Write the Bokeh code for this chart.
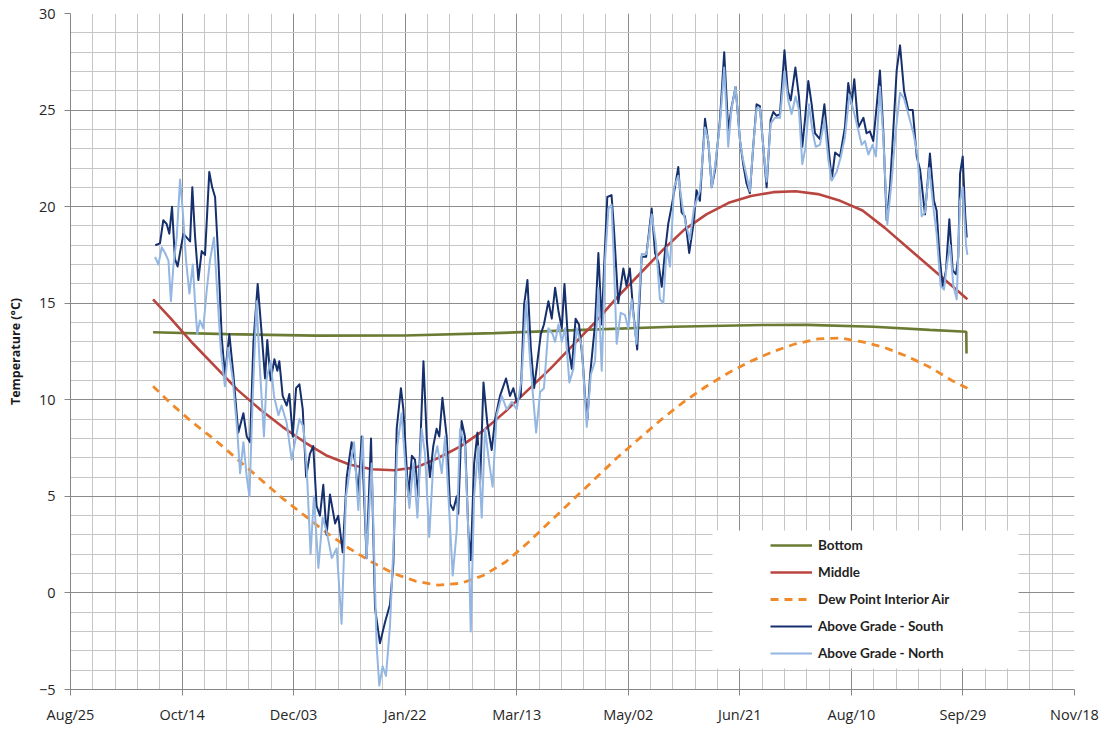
import pandas as pd
from bokeh.plotting import figure
from bokeh.models import (Range1d, FixedTicker, DatetimeTickFormatter, Legend,
                          LegendItem, BoxAnnotation, ColumnDataSource)
from bokeh.embed import file_html
from bokeh.resources import INLINE

# ---------------- data ----------------
start_date = "2010-08-25"
tick_dates = ["2010-08-25", "2010-10-14", "2010-12-03", "2011-01-22", "2011-03-13",
              "2011-05-02", "2011-06-21", "2011-08-10", "2011-09-29", "2011-11-18"]
y_ticks = [-5, 0, 5, 10, 15, 20, 25, 30]

# days after start_date
smooth_day = [37, 45, 55, 65, 75, 85, 95, 105, 115, 125, 135, 145, 155, 165, 175, 185, 195,
              205, 215, 225, 235, 245, 255, 265, 275, 285, 295, 305, 315, 325, 335, 345, 355,
              365, 375, 385, 395, 402]
middle_temp = [15.2, 14.2, 12.9, 11.7, 10.5, 9.5, 8.6, 7.8, 7.1, 6.65, 6.4, 6.35, 6.5, 7.0, 7.6,
               8.4, 9.4, 10.5, 11.6, 12.8, 14.0, 15.3, 16.5, 17.7, 18.8, 19.6, 20.2, 20.55,
               20.75, 20.8, 20.65, 20.3, 19.8, 18.9, 17.9, 16.9, 15.9, 15.2]
dew_temp = [10.7, 9.8, 8.8, 7.9, 6.9, 5.9, 4.9, 4.0, 3.1, 2.3, 1.6, 1.0, 0.6, 0.4, 0.5, 0.9,
            1.6, 2.6, 3.7, 4.8, 5.9, 7.0, 8.0, 9.0, 9.9, 10.7, 11.4, 12.0, 12.5, 12.9, 13.15,
            13.2, 13.0, 12.7, 12.25, 11.7, 11.0, 10.6]

bottom_day = [37, 70, 110, 150, 190, 230, 270, 310, 330, 360, 385, 401.5, 401.6]
bottom_temp = [13.5, 13.4, 13.32, 13.33, 13.45, 13.62, 13.78, 13.87, 13.88, 13.78, 13.62,
               13.52, 12.4]

south_day = [38.0, 40.1, 41.6, 43.1, 44.3, 45.5, 46.8, 48.0, 50.6, 52.1, 53.6, 54.6, 55.8,
             57.3, 58.8, 60.3, 62.2, 63.5, 64.8, 66.3, 67.8, 69.2, 71.2, 73.0, 75.2, 77.5,
             79.0, 80.5, 82.0, 83.9, 85.7, 87.2, 88.2, 89.7, 91.4, 92.7, 93.6, 95.1, 96.9,
             98.1, 99.6, 101.1, 102.6, 104.1, 105.6, 107.3, 108.8, 110.3, 111.8, 113.3,
             114.8, 116.3, 118.6, 120.0, 122.0, 123.8, 126.0, 127.5, 129.0, 130.5, 132.7,
             134.7, 136.5, 138.7, 141.0, 143.2, 144.7, 146.2, 148.1, 149.2, 151.4, 153.0,
             154.4, 155.9, 158.2, 159.7, 161.1, 162.6, 164.1, 165.3, 166.7, 168.6, 170.1,
             171.6, 173.1, 173.8, 175.3, 176.8, 178.3, 179.4, 180.9, 182.4, 183.6, 185.1,
             186.8, 188.8, 190.3, 192.5, 195.2, 197.0, 198.5, 200.0, 201.8, 203.3, 204.8,
             206.3, 207.8, 209.3, 210.8, 212.2, 214.2, 215.7, 217.2, 218.7, 220.2, 221.4,
             223.2, 224.7, 226.4, 227.9, 229.6, 230.6, 231.7, 232.9, 235.1, 236.6, 238.1,
             239.1, 240.6, 242.5, 243.5, 245.5, 247.8, 249.2, 250.7, 252.2, 254.0, 256.0,
             258.0, 260.5, 262.0, 263.5, 265.0, 266.4, 267.9, 269.4, 270.9, 272.4, 273.9,
             275.4, 277.3, 279.1, 280.6, 282.1, 284.4, 285.9, 287.4, 288.9, 291.1, 293.0,
             294.8, 296.3, 298.1, 300.1, 301.5, 303.0, 304.5, 306.0, 307.5, 309.0, 310.5,
             312.0, 313.8, 315.0, 316.5, 318.0, 320.0, 321.5, 322.8, 324.9, 326.5, 328.0,
             329.2, 330.7, 332.2, 333.7, 335.9, 337.9, 339.7, 341.2, 342.7, 344.9, 347.1,
             348.6, 350.1, 351.3, 353.1, 355.4, 356.8, 358.3, 359.8, 361.0, 362.8, 364.3,
             365.8, 367.3, 368.8, 370.3, 371.8, 373.6, 375.5, 377.5, 379.3, 380.8, 383.0,
             385.2, 387.0, 388.2, 389.4, 390.9, 392.4, 393.9, 395.4, 396.9, 397.9, 398.7,
             399.9, 401.0, 401.7]
south_temp = [18.0, 18.1, 19.3, 19.1, 18.6, 20.0, 17.3, 16.9, 18.6, 18.4, 18.2, 21.0, 18.5,
              16.2, 17.7, 17.5, 21.8, 21.0, 20.5, 17.2, 13.2, 11.3, 13.4, 11.3, 8.3, 9.3,
              8.1, 7.8, 13.0, 16.0, 13.4, 11.1, 13.1, 11.0, 12.1, 11.5, 12.0, 10.2, 9.7,
              10.3, 8.1, 10.6, 10.8, 9.5, 6.0, 7.2, 7.6, 4.5, 4.0, 5.6,
              3.0, 5.1, 3.6, 4.0, 2.1, 6.0, 7.8, 6.8, 5.1, 8.1, 1.8,
              8.0, -0.8, -2.6, -1.5, -0.6, 1.5, 8.5, 10.6, 9.5, 5.0, 7.1,
              6.9, 5.0, 12.0, 7.9, 6.0, 7.6, 8.5, 8.1, 10.1, 8.1, 4.6,
              4.3, 5.0, 4.1, 8.9, 8.1, 3.2, 1.7, 6.7, 8.3, 5.7, 10.9,
              8.8, 7.4, 9.0, 10.2, 11.1, 10.2, 10.6, 9.9, 10.2, 14.9, 16.2,
              12.7, 10.6, 12.0, 13.4, 13.9, 15.1, 14.2, 15.8, 14.6, 13.7, 16.0,
              12.7, 11.6, 14.2, 13.9, 12.0, 10.2, 9.0, 11.3, 13.9, 17.6, 13.9,
              16.7, 20.5, 20.6, 19.0, 15.0, 16.8, 15.9, 16.8, 14.6, 12.6, 17.4,
              17.4, 19.9, 17.6, 17.1, 15.85, 17.6, 19.1, 20.0, 21.0, 22.05, 19.7,
              19.5, 17.6, 19.0, 20.85, 20.3, 24.55, 23.3, 21.0, 21.9, 24.5, 28.0,
              23.95, 25.15, 26.2, 23.4, 22.2, 21.2, 20.7, 23.1, 25.3, 25.2, 23.1,
              21.0, 24.5, 24.9, 24.7, 24.8, 28.1, 26.0, 25.5, 27.2, 25.7, 23.1,
              24.5, 26.5, 25.3, 23.8, 23.5, 25.3, 23.1, 21.4, 22.8, 22.6, 24.1,
              26.4, 25.3, 26.6, 24.1, 24.6, 23.8, 23.9, 23.4, 24.8, 27.05, 23.9,
              19.3, 21.0, 24.0, 27.05, 28.35, 26.0, 25.0, 25.0, 22.6, 21.9, 19.6,
              22.75, 20.3, 19.8, 17.6, 15.85, 16.7, 19.35, 16.7, 16.5, 17.4, 21.7,
              22.6, 19.6, 18.4]

north_day = [37.9, 39.4, 40.9, 42.4, 43.9, 45.0, 46.1, 47.6, 49.1, 50.3, 51.8, 53.3, 54.8,
             55.8, 56.8, 58.0, 59.5, 61.0, 62.5, 64.3, 65.8, 67.3, 69.2, 70.7, 72.7, 74.8,
             76.0, 77.5, 79.0, 80.2, 81.7, 83.4, 84.9, 86.7, 87.9, 89.7, 91.2, 93.2, 94.6,
             96.9, 99.1, 100.6, 102.6, 104.4, 105.9, 107.6, 109.1, 111.1, 113.0, 114.8,
             117.1, 119.3, 121.5, 123.5, 125.6, 127.1, 129.0, 131.0, 132.7, 135.0, 137.2,
             138.4, 139.9, 141.4, 143.2, 144.7, 146.5, 148.4, 150.0, 151.9, 153.7, 155.5,
             157.4, 158.9, 160.8, 162.6, 164.4, 166.4, 167.9, 169.4, 171.3, 173.1, 174.6,
             176.8, 178.3, 179.4, 180.9, 182.8, 184.3, 185.8, 187.7, 189.2, 191.0, 193.3,
             195.5, 197.8, 200.0, 202.2, 204.2, 206.0, 208.7, 210.5, 212.2, 214.2, 216.1,
             217.2, 218.7, 220.2, 221.7, 223.6, 225.4, 226.9, 229.1, 231.4, 233.2, 235.1,
             236.6, 238.1, 239.6, 241.1, 242.5, 243.3, 244.8, 246.6, 248.5, 250.0, 251.5,
             253.7, 256.0, 258.2, 260.5, 262.4, 264.2, 265.7, 267.2, 268.7, 270.5, 272.4,
             274.4, 275.8, 277.6, 279.4, 280.6, 282.1, 284.4, 285.9, 287.4, 288.9, 291.1,
             293.0, 294.8, 296.3, 298.1, 300.1, 301.5, 303.0, 304.5, 306.0, 307.5, 309.0,
             310.5, 312.0, 313.8, 315.7, 318.0, 320.0, 321.7, 323.2, 325.0, 326.5, 328.0,
             329.5, 331.0, 332.5, 334.0, 335.9, 337.9, 339.7, 341.2, 343.4, 345.3, 347.1,
             349.1, 350.9, 352.8, 354.6, 356.1, 357.6, 359.5, 361.0, 362.8, 364.3, 366.1,
             368.1, 369.6, 371.8, 373.6, 375.5, 377.8, 379.6, 381.5, 383.0, 384.9, 386.7,
             388.2, 390.0, 391.5, 392.7, 394.2, 395.7, 397.2, 398.7, 399.9, 401.4, 402.0]
north_temp = [17.4, 17.0, 17.9, 17.6, 17.2, 15.1, 16.9, 18.4, 21.4, 19.8, 17.2, 15.5, 17.0,
              15.1, 13.4, 14.1, 13.7, 15.6, 17.2, 18.4, 15.5, 12.7, 10.7, 12.7, 11.1, 8.3,
              6.2, 7.8, 6.0, 5.0, 10.2, 15.1, 11.6, 8.1, 11.1, 12.0, 10.2, 9.2, 9.7,
              8.8, 6.9, 7.8, 9.0, 8.6, 6.4, 2.0, 5.0, 1.3, 3.9, 3.2,
              1.8, 2.3, -1.6, 5.0, 6.7, 7.8, 4.3, 8.1, 1.8, 6.7, -2.7,
              -4.8, -3.8, -4.3, -1.7, 2.3, 7.6, 9.3, 6.7, 4.4, 6.7, 3.9,
              8.5, 7.2, 2.9, 6.7, 7.6, 6.2, 8.1, 5.0, 0.9, 3.2, 8.5,
              7.6, 3.2, -2.0, 5.0, 7.6, 3.9, 8.5, 6.7, 5.5, 9.2, 10.2,
              9.5, 9.9, 9.5, 11.1, 15.1, 12.0, 8.3, 10.4, 10.6, 13.7, 13.4,
              13.0, 13.9, 13.0, 13.7, 10.9, 11.6, 13.7, 12.8, 8.6, 11.3, 12.0,
              15.8, 11.5, 17.2, 19.9, 20.1, 17.9, 12.9, 14.5, 14.4, 13.7, 15.2,
              12.9, 17.55, 17.55, 19.6, 18.1, 15.2, 15.0, 17.9, 16.9, 21.0, 21.6,
              19.9, 19.1, 18.3, 19.9, 20.3, 20.8, 24.1, 23.4, 21.0, 22.1, 24.3,
              27.2, 23.1, 25.1, 26.2, 23.4, 22.4, 21.6, 20.8, 23.1, 25.1, 25.1,
              23.1, 21.3, 24.3, 24.6, 24.6, 27.0, 25.5, 24.8, 25.7, 25.0, 22.2,
              23.1, 25.3, 23.95, 23.1, 23.2, 24.5, 22.4, 21.35, 21.8, 22.6, 23.6,
              25.8, 25.0, 24.1, 23.2, 23.4, 22.7, 23.2, 22.6, 26.2, 23.6, 19.1,
              21.4, 23.6, 25.9, 25.6, 24.8, 23.8, 22.7, 19.5, 19.7, 22.0, 20.0,
              18.6, 15.9, 15.7, 16.9, 18.0, 15.9, 15.2, 20.3, 21.0, 18.0, 17.5]

# ---------------- helpers ----------------
DAY_MS = 86400000.0
t0_ms = pd.Timestamp(start_date).value / 1e6


def to_ms(days):
    return [t0_ms + d * DAY_MS for d in days]


major_ms = [pd.Timestamp(d).value / 1e6 for d in tick_dates]
minor_ms = [major_ms[0] + i * 10 * DAY_MS for i in range(0, 46)]

p = figure(width=1100, height=726, x_axis_type="datetime",
           output_backend="svg", toolbar_location=None,
           x_range=Range1d(major_ms[0], major_ms[-1]), y_range=Range1d(-5, 30),
           min_border_left=70, min_border_right=26, min_border_top=13,
           min_border_bottom=35)
p.outline_line_color = None
p.background_fill_color = "white"

xt = FixedTicker(ticks=major_ms, minor_ticks=minor_ms)
yt = FixedTicker(ticks=y_ticks, minor_ticks=list(range(-5, 31)))
p.xaxis.ticker = xt
p.yaxis.ticker = yt
p.xgrid.ticker = xt
p.ygrid.ticker = yt

fmt = "%b/%d"
p.xaxis.formatter = DatetimeTickFormatter(
    microseconds=fmt, milliseconds=fmt, seconds=fmt, minsec=fmt, minutes=fmt,
    hourmin=fmt, hours=fmt, days=fmt, months=fmt, years=fmt)

for g in (p.xgrid, p.ygrid):
    g.grid_line_color = "#8c8c8c"
    g.grid_line_width = 1
    g.minor_grid_line_color = "#c6c6c6"
    g.minor_grid_line_width = 1

for ax in (p.xaxis, p.yaxis):
    ax.axis_line_color = "#868686"
    ax.major_tick_line_color = "#868686"
    ax.major_tick_out = 6
    ax.major_tick_in = 0
    ax.minor_tick_line_color = None
    ax.major_label_text_font = "Open Sans"
    ax.major_label_text_font_size = "14.5px"
    ax.major_label_text_color = "#262626"

p.xaxis.major_label_standoff = 9
p.yaxis.major_label_standoff = 9
p.yaxis.axis_label = "Temperature (°C)"
p.yaxis.axis_label_text_font = "Open Sans"
p.yaxis.axis_label_text_font_size = "12.5px"
p.yaxis.axis_label_text_font_style = "bold"
p.yaxis.axis_label_text_color = "#1a1a1a"
p.yaxis.axis_label_standoff = 12

# ---------------- series ----------------
src_s = ColumnDataSource(dict(x=to_ms(smooth_day), mid=middle_temp, dew=dew_temp))
r_bottom = p.line(to_ms(bottom_day), bottom_temp, line_color="#6b7b34", line_width=2.6)
r_middle = p.line("x", "mid", source=src_s, line_color="#b8453f", line_width=2.6)
r_dew = p.line("x", "dew", source=src_s, line_color="#f0892a", line_width=2.8,
               line_dash="8 6")
r_south = p.line(to_ms(south_day), south_temp, line_color="#16306e", line_width=2.0,
                 line_join="round")
r_north = p.line(to_ms(north_day), north_temp, line_color="#93b6e2", line_width=2.0,
                 line_join="round")

# legend background panel (canvas px)
bg = BoxAnnotation(left=712, right=1018, top=530, bottom=668,
                   left_units="canvas", right_units="canvas",
                   top_units="canvas", bottom_units="canvas",
                   fill_color="white", fill_alpha=1.0, line_color=None)
p.add_layout(bg)

legend = Legend(items=[
    LegendItem(label="Bottom", renderers=[r_bottom]),
    LegendItem(label="Middle", renderers=[r_middle]),
    LegendItem(label="Dew Point Interior Air", renderers=[r_dew]),
    LegendItem(label="Above Grade - South", renderers=[r_south]),
    LegendItem(label="Above Grade - North", renderers=[r_north]),
], location=(700, 26))
legend.glyph_width = 42
legend.glyph_height = 20
legend.label_height = 20
legend.spacing = 7
legend.padding = 8
legend.margin = 0
legend.label_standoff = 6
legend.background_fill_alpha = 0
legend.border_line_color = None
legend.label_text_font = "Lato"
legend.label_text_font_size = "13.5px"
legend.label_text_font_style = "bold"
legend.label_text_color = "#1f1f1f"
p.add_layout(legend)

open("out.html", "w").write(file_html(p, INLINE))
